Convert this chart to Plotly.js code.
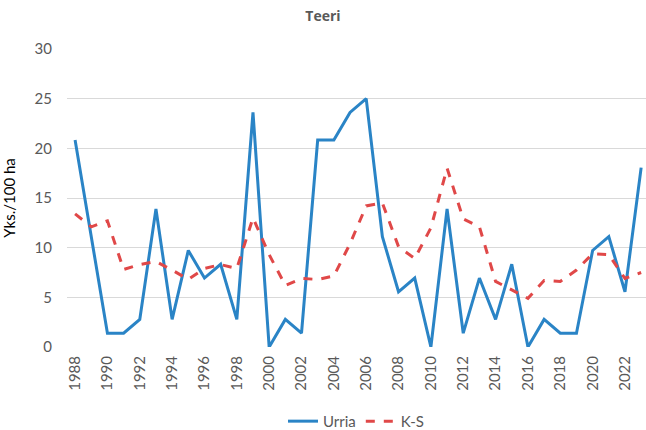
<!DOCTYPE html>
<html>
<head>
<meta charset="utf-8">
<script src="https://cdn.plot.ly/plotly-3.0.1.min.js"></script>
<style>html,body{margin:0;padding:0;background:#fff;overflow:hidden}#chart{width:646px;height:430px}</style>
</head>
<body>
<div id="chart"></div>
<script>
const years = [1988,1989,1990,1991,1992,1993,1994,1995,1996,1997,1998,1999,2000,2001,2002,2003,2004,2005,2006,2007,2008,2009,2010,2011,2012,2013,2014,2015,2016,2017,2018,2019,2020,2021,2022,2023];
const urria = [20.83,11.11,1.39,1.39,2.78,13.89,2.78,9.72,6.94,8.33,2.78,23.61,0,2.78,1.39,20.83,20.83,23.61,25.0,11.11,5.56,6.94,0,13.89,1.39,6.94,2.78,8.33,0,2.78,1.39,1.39,9.72,11.11,5.56,18.06];
const ks = [13.4,12.1,12.7,7.8,8.3,8.6,7.75,6.8,7.9,8.3,7.9,13.0,9.3,6.2,6.9,6.8,7.15,10.4,14.2,14.5,10.1,8.9,12.0,18.0,12.9,12.1,6.6,5.75,4.9,6.7,6.6,7.75,9.4,9.3,6.9,7.5];
const tickYears = [1988,1990,1992,1994,1996,1998,2000,2002,2004,2006,2008,2010,2012,2014,2016,2018,2020,2022];
const yTicks = [0,5,10,15,20,25,30];
const seriesNames = ['Urria','K-S'];

const x = years.map(String);
const traces = [
  {x: x, y: urria, name: seriesNames[0], type: 'scatter', mode: 'lines',
   line: {color: '#2A84C6', width: 3}},
  {x: x, y: ks, name: seriesNames[1], type: 'scatter', mode: 'lines',
   line: {color: '#E04848', width: 3, dash: 'dash'}}
];
const layout = {
  width: 646, height: 430,
  margin: {l: 67, r: 0, t: 49, b: 83},
  paper_bgcolor: '#fff', plot_bgcolor: '#fff',
  font: {family: 'Lato, "Noto Sans", sans-serif', color: '#595959', size: 15},
  title: {text: '<b>Teeri</b>', x: 0.5, xanchor: 'center', y: 0.962, yanchor: 'middle',
          font: {size: 14, color: '#595959', family: '"Open Sans", Lato, sans-serif'}},
  xaxis: {type: 'category', range: [-0.5, 35.3], tickmode: 'array', automargin: false,
          tickvals: tickYears.map(String), ticktext: tickYears.map(String),
          tickangle: -90, showgrid: false, zeroline: false, showline: false,
          ticks: '', ticklabelstandoff: 5, tickfont: {size: 15, color: '#595959'}},
  yaxis: {range: [0, 30], tickvals: yTicks, showgrid: true, gridcolor: '#D9D9D9', gridwidth: 1,
          automargin: false,
          zeroline: false, showline: false, ticks: '', ticklen: 0, ticklabelstandoff: 14,
          tickfont: {size: 15, color: '#595959'},
          title: {text: 'Yks./100 ha', font: {size: 15, color: '#000'}, standoff: 16}},
  legend: {orientation: 'h', x: 0.5, xanchor: 'center', yref: 'container', y: 0.02, yanchor: 'middle',
           font: {size: 15, color: '#595959'}, traceorder: 'normal'},
  showlegend: true
};
Plotly.newPlot('chart', traces, layout, {displayModeBar: false, staticPlot: true});
</script>
</body>
</html>
